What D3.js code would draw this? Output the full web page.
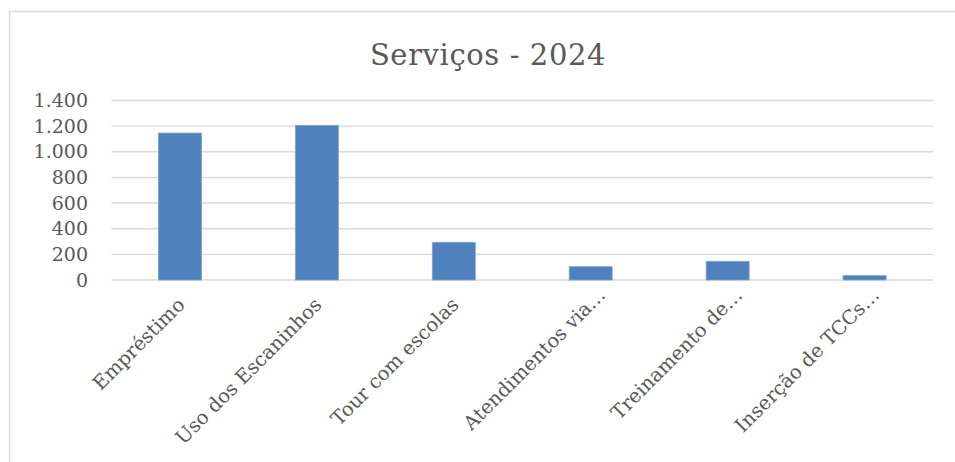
<!DOCTYPE html>
<meta charset="utf-8">
<style>
    body { margin: 0; background: #fff; }
    text { font-family: "DejaVu Serif", serif; fill: #595959; }
    .grid line { stroke: #d9d9d9; stroke-width: 1.4px; }
</style>
<svg id="svg" width="955" height="462"></svg>
<script src="https://d3js.org/d3.v7.min.js"></script>
<script>

    // data
    var categories = ["Empréstimo", "Uso dos Escaninhos", "Tour com escolas",
        "Atendimentos via…", "Treinamento de…", "Inserção de TCCs…"];
    var values = [1146, 1205, 294, 104, 146, 34];
    var yTicks = [0, 200, 400, 600, 800, 1000, 1200, 1400];
    var title = "Serviços - 2024";

    var svg = d3.select("svg");

    // chart frame (only top and left edges visible in the picture)
    svg.append("path")
        .attr("d", "M9.5,462 V11.5 H955")
        .attr("fill", "none")
        .attr("stroke", "#d9d9d9")
        .attr("stroke-width", 1.5);

    var x = d3.scaleBand()
        .domain(categories)
        .range([111.5, 933])
        .paddingInner(0.686)
        .paddingOuter(0.343);

    var y = d3.scaleLinear()
        .domain([0, 1400])
        .range([280, 100.5]);

    // horizontal gridlines
    svg.append("g")
        .attr("class", "grid")
        .selectAll("line")
        .data(yTicks)
        .enter().append("line")
        .attr("x1", 111.5)
        .attr("x2", 933)
        .attr("y1", function (d) { return y(d); })
        .attr("y2", function (d) { return y(d); });

    // y axis labels, pt-br number format (1.400)
    var fmt = d3.formatLocale({decimal: ",", thousands: ".", grouping: [3], currency: ["R$", ""]}).format(",d");
    var yAxis = d3.axisLeft(y).tickValues(yTicks).tickFormat(fmt).tickSize(0).tickPadding(0);
    var gy = svg.append("g")
        .attr("transform", "translate(88,0)")
        .call(yAxis);
    gy.select(".domain").remove();
    gy.selectAll("text")
        .attr("font-family", "DejaVu Serif")
        .attr("font-size", 19)
        .attr("fill", "#595959");

    // bars
    svg.append("g")
        .selectAll("rect")
        .data(values)
        .enter().append("rect")
        .attr("x", function (d, i) { return x(categories[i]); })
        .attr("width", x.bandwidth())
        .attr("y", function (d) { return y(d); })
        .attr("height", function (d) { return y(0) - y(d); })
        .attr("fill", "#4f81bd")
        .attr("stroke", "#7ea3d3")
        .attr("stroke-width", 0.8);

    // rotated category labels (truncated ones sit a little further out, like excel does)
    svg.append("g")
        .selectAll("text")
        .data(categories)
        .enter().append("text")
        .attr("transform", function (d) {
            return "translate(" + (x(d) + x.bandwidth() / 2 + 6) + ",306) rotate(-45)";
        })
        .attr("dx", function (d) { return d.slice(-1) === "…" ? 14 : 0; })
        .attr("text-anchor", "end")
        .attr("font-size", 19.5)
        .text(function (d) { return d; });

    // title
    svg.append("text")
        .attr("x", 488)
        .attr("y", 65)
        .attr("text-anchor", "middle")
        .attr("font-size", 29)
        .attr("letter-spacing", 0.6)
        .text(title);

</script>
